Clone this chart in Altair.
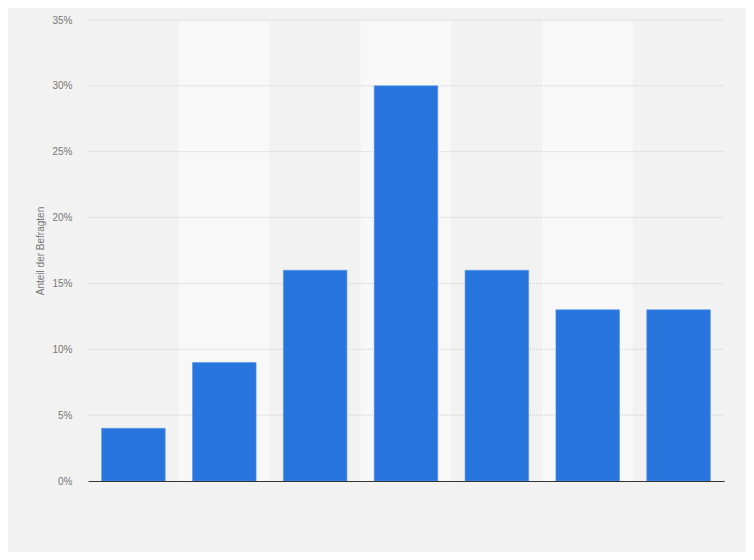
import altair as alt
import pandas as pd

categories = ["1", "2", "3", "4", "5", "6", "7"]
values = [4, 9, 16, 30, 16, 13, 13]
band_fill = ["#f2f2f2", "#f8f8f8", "#f2f2f2", "#f8f8f8", "#f2f2f2", "#f8f8f8", "#f2f2f2"]
tick_values = [0, 5, 10, 15, 20, 25, 30, 35]

df = pd.DataFrame({"cat": categories, "val": [v / 100 for v in values], "band": band_fill})
grid_df = pd.DataFrame({"val": [t / 100 for t in tick_values[1:]]})

xscale = alt.Scale(paddingInner=0.3, paddingOuter=0.15)
yscale = alt.Scale(domain=[0, 0.35], nice=False)
ytitle = "Anteil der Befragten"

xaxis = alt.Axis(labels=False, ticks=False, domain=True, domainColor="#333333",
                 domainWidth=1.2, grid=False, zindex=1)
yaxis = alt.Axis(format=".0%", values=[t / 100 for t in tick_values],
                 domain=False, ticks=False, grid=False, labelPadding=16,
                 labelColor="#777777", labelFontSize=10, labelFont="Arial",
                 titleColor="#777777", titleFontSize=10, titleFont="Arial",
                 titleFontWeight="normal", titlePadding=6)

bands = alt.Chart(df).mark_rect(width={"band": 1 / 0.7}).encode(
    x=alt.X("cat:N", sort=categories, title=None, scale=xscale, axis=xaxis),
    y=alt.value(0),
    y2=alt.value(461),
    color=alt.Color("band:N", scale=None),
)

grid = alt.Chart(grid_df).mark_rule(color="#d0d0d0", strokeDash=[1, 1], strokeWidth=1).encode(
    y=alt.Y("val:Q", scale=yscale, title=ytitle, axis=yaxis),
    x=alt.value(0),
    x2=alt.value(636),
)

bars = alt.Chart(df).mark_bar(color="#2876dd", stroke="#5a96e6", strokeWidth=0.6).encode(
    x=alt.X("cat:N", sort=categories, title=None, scale=xscale, axis=xaxis),
    y=alt.Y("val:Q", title=ytitle, scale=yscale, axis=yaxis),
)

chart = alt.layer(bands, grid, bars).properties(
    width=636, height=461,
    background="#f2f2f2",
    padding={"left": 80, "top": 12, "right": 22, "bottom": 71},
    autosize=alt.AutoSizeParams(type="none"),
).configure_view(stroke=None, fill="#f2f2f2")

chart.save("out.html", embed_options={"renderer": "svg", "actions": False})
